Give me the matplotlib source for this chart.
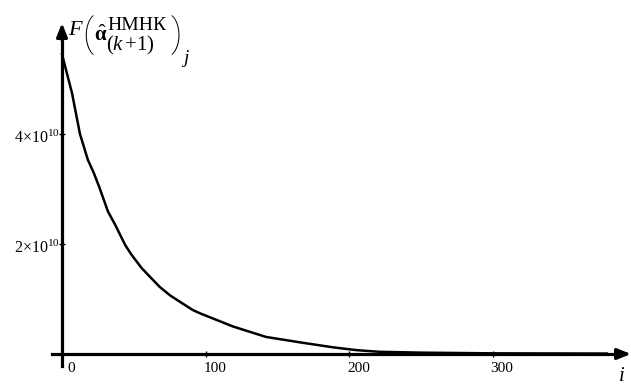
import matplotlib
matplotlib.use("Agg")
import matplotlib.pyplot as plt

# objective value per iteration
iterations = [0, 7, 12.5, 18, 22, 26, 32, 37, 44, 48.5, 55.5, 61, 68, 75, 82, 91, 96,
              119, 142, 166, 189, 205, 221, 249, 300, 379]
f_values = [5.45e10, 4.74e10, 4.00e10, 3.53e10, 3.30e10, 3.03e10, 2.59e10, 2.35e10, 1.98e10,
            1.80e10, 1.56e10, 1.41e10, 1.22e10, 1.07e10, 0.95e10, 0.80e10, 0.74e10,
            0.50e10, 0.31e10, 0.21e10, 0.12e10, 0.07e10, 0.04e10, 0.025e10, 0.012e10, 0.008e10]

x_ticks = [0, 100, 200, 300]
x_tick_labels = ["0", "100", "200", "300"]
y_ticks = [2e10, 4e10]
y_tick_labels = [r"$2{\times}10^{10}$", r"$4{\times}10^{10}$"]

W, H = 631, 385
ORIGIN = (62, 354)          # pixel position of (0, 0)
X_PER_PX = 100 / 143.7
Y_PER_PX = 1e10 / 55

plt.rcParams["font.family"] = ["Liberation Serif", "DejaVu Serif"]
plt.rcParams["mathtext.fontset"] = "custom"
plt.rcParams["mathtext.rm"] = "Liberation Serif"
plt.rcParams["mathtext.it"] = "Liberation Serif:italic"
plt.rcParams["mathtext.bf"] = "Liberation Serif:bold"

fig = plt.figure(figsize=(W / 100, H / 100), dpi=100)
ax = fig.add_axes([0, 0, 1, 1])
ax.set_xlim(-ORIGIN[0] * X_PER_PX, (W - ORIGIN[0]) * X_PER_PX)
ax.set_ylim(-(H - ORIGIN[1]) * Y_PER_PX, ORIGIN[1] * Y_PER_PX)
ax.patch.set_visible(False)

for side in ("top", "right"):
    ax.spines[side].set_visible(False)
for side in ("left", "bottom"):
    ax.spines[side].set_position(("data", 0))
    ax.spines[side].set_linewidth(2.3)
ax.spines["left"].set_bounds(-12 * Y_PER_PX, (ORIGIN[1] - 32) * Y_PER_PX)
ax.spines["bottom"].set_bounds(-10 * X_PER_PX, (622 - ORIGIN[0]) * X_PER_PX)

ax.set_xticks(x_ticks[1:])
ax.set_yticks(y_ticks)
ax.tick_params(direction="inout", length=5, width=1.0, color="black",
               labelbottom=False, labelleft=False)

# arrow heads on both axes
head = dict(arrowstyle="-|>,head_length=0.8,head_width=0.32", mutation_scale=10,
            lw=2.3, color="black", shrinkA=0, shrinkB=0)
ax.annotate("", xy=(0, (ORIGIN[1] - 23) * Y_PER_PX), xytext=(0, (ORIGIN[1] - 40) * Y_PER_PX),
            arrowprops=head)
ax.annotate("", xy=((631 - ORIGIN[0]) * X_PER_PX, 0), xytext=((615 - ORIGIN[0]) * X_PER_PX, 0),
            arrowprops=head)

ax.plot(iterations, f_values, color="black", lw=1.8, solid_joinstyle="round")

for t, lab in zip(x_ticks, x_tick_labels):
    ax.annotate(lab, xy=(t, 0), xytext=(9 * 0.72, -18 * 0.72), textcoords="offset points",
                ha="center", va="baseline", fontsize=11)
for t, lab in zip(y_ticks, y_tick_labels):
    ax.annotate(lab, xy=(0, t), xytext=(-2 * 0.72, -9 * 0.72), textcoords="offset points",
                ha="right", va="baseline", fontsize=11.5)


def put(x, y, s, size, **kw):
    fig.text(x / W, 1 - y / H, s, fontsize=size, ha=kw.pop("ha", "left"),
             va=kw.pop("va", "baseline"), **kw)


put(622, 381, "i", 15, style="italic", ha="center")

# y-axis name: F(alpha-hat НМНК (k+1))_j
put(68, 35, "F", 16, style="italic")
put(82, 35, "(", 27, va="center", family="Roboto", weight="light")
put(94, 41, r"$\hat{\mathbf{α}}$", 15)
put(107, 30, "НМНК", 14)
put(106, 50, r"$(k\,{+}1)$", 15)
put(170, 35, ")", 27, va="center", family="Roboto", weight="light")
put(183, 63, "j", 14, style="italic")

fig.savefig("out.png", dpi=100)
